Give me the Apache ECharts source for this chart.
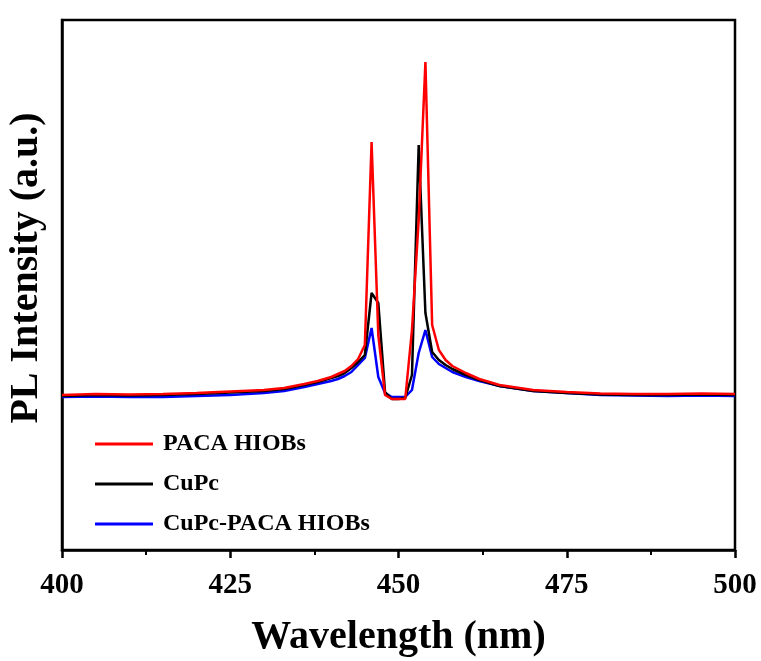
<!DOCTYPE html>
<html>
<head>
<meta charset="utf-8">
<script src="https://cdn.jsdelivr.net/npm/echarts@6/dist/echarts.min.js"></script>
<style>html,body{margin:0;padding:0;background:#fff;}#c{width:761px;height:661px;}</style>
</head>
<body>
<div id="c"></div>
<script>
var wavelengths = [400,405,410,415,420,425,430,433,436,438,440,441,442,443,444,445,446,447,448,449,450,451,452,453,454,455,456,457,458,460,462,465,470,475,480,485,490,495,500];
var pacaHIOBs = [155,156,155.5,156,157,158.5,160,162,166,169,173,176,179,184,191,205,408,215,155,151,151,151,220,330,488,225,200,190,184,177,171,165,160,158,156.5,156,156,156.5,156];
var cuPc      = [154,155,154.5,155,156,157.5,159,161,165,168,172,174,177,182,188,195,257,247,158,151,151,152,175,405,237,198,190,185,181,175,170,164,159,157,155.5,155,155,155.5,155];
var cuPcPACA  = [153,153.5,153,153,154,155,157,159,163,166,169,171,174,178,185,192,222,173,157,153,153,153,160,197,220,193,186,182,178,173,169,164,159,157,155,154.5,154,154.5,154];
var seriesNames = ['PACA HIOBs','CuPc','CuPc-PACA HIOBs'];
var seriesColors = ['#ff0000','#000000','#0000ff'];
var xTicks = [400,425,450,475,500];

function pairs(ys){ return wavelengths.map(function(x,i){ return [x, ys[i]]; }); }
var allSeries = [pacaHIOBs, cuPc, cuPcPACA];
var font = "'Liberation Serif','Times New Roman',serif";

var chart = echarts.init(document.getElementById('c'), null, {renderer:'canvas'});
chart.setOption({
  animation:false,
  backgroundColor:'#fff',
  grid:{left:62, right:26, top:20, bottom:111, containLabel:false, outerBoundsMode:'none',
        show:true, borderColor:'#000', borderWidth:2.5, backgroundColor:'transparent'},
  legend:{
    orient:'vertical', left:90, top:427, itemWidth:58, itemHeight:3, itemGap:16, icon:'rect',
    data:seriesNames,
    textStyle:{fontFamily:font, fontWeight:'bold', fontSize:24, color:'#000', padding:[0,0,0,5]}
  },
  xAxis:{
    type:'value', min:xTicks[0], max:xTicks[xTicks.length-1], interval:25,
    name:'Wavelength (nm)', nameLocation:'middle', nameGap:68,
    nameTextStyle:{fontFamily:font, fontWeight:'bold', fontSize:40, color:'#000'},
    axisLine:{lineStyle:{color:'#000', width:2.5}},
    axisTick:{length:8, lineStyle:{color:'#000', width:2.5}},
    minorTick:{show:true, splitNumber:2, length:5, lineStyle:{color:'#000', width:2}},
    splitLine:{show:false},
    axisLabel:{fontFamily:font, fontWeight:'bold', fontSize:29, color:'#000', margin:21}
  },
  yAxis:{
    type:'value', min:0, max:530,
    name:'PL Intensity (a.u.)', nameLocation:'middle', nameGap:15,
    nameTextStyle:{fontFamily:font, fontWeight:'bold', fontSize:40, color:'#000', padding:[0,0,0,34]},
    axisLine:{show:true, lineStyle:{color:'#000', width:2.5}},
    axisTick:{show:false}, axisLabel:{show:false}, splitLine:{show:false}
  },
  series: seriesNames.map(function(n,i){
    return {name:n, type:'line', data:pairs(allSeries[i]), showSymbol:false, symbol:'none',
      lineStyle:{color:seriesColors[i], width:2.5}, itemStyle:{color:seriesColors[i]}, z: 3 - i};
  })
});
</script>
</body>
</html>
